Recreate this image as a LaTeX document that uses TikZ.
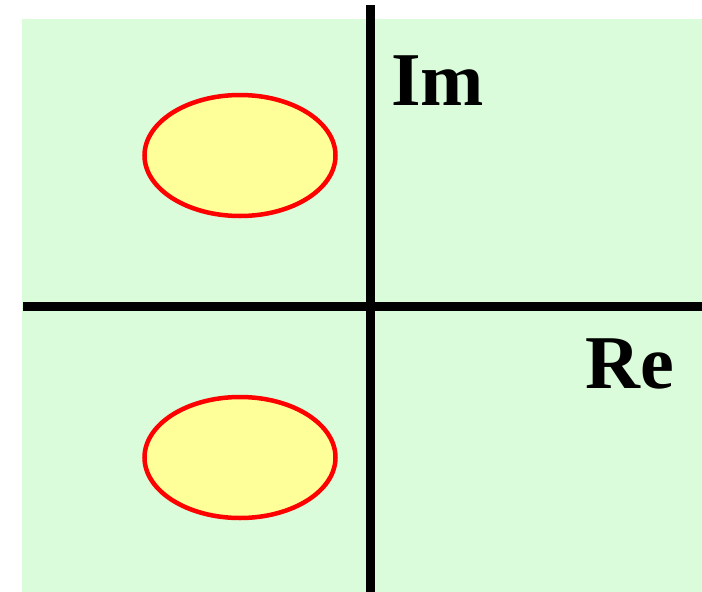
\documentclass[tikz,border=0pt]{standalone}
\usepackage{fontspec}
\setmainfont{Liberation Serif}
\usetikzlibrary{shapes.geometric}
\definecolor{bggreen}{RGB}{218,252,218}
\definecolor{blobyellow}{RGB}{255,255,153}
\definecolor{blobred}{RGB}{255,0,0}
\tikzset{
  axis/.style={line width=9pt, black},
  blob/.style={ellipse, draw=blobred, fill=blobyellow, line width=4.5pt, minimum width=191pt, minimum height=121pt, inner sep=0pt},
  axlabel/.style={anchor=base west, inner sep=0pt, font=\fontsize{76}{80}\selectfont\bfseries}
}
\begin{document}
\begin{tikzpicture}[x=1pt,y=-1pt]
\useasboundingbox (0,0) rectangle (702,592);
\fill[bggreen] (22,19) rectangle (702,592);
\coordinate (vtop) at (370.5,5);
\coordinate (vbot) at (370.5,592);
\coordinate (hleft) at (23,306.5);
\coordinate (hright) at (702,306.5);
\draw[axis] (vtop) -- (vbot);
\draw[axis] (hleft) -- (hright);
\node[blob] (upper) at (240,155.5) {};
\node[blob] (lower) at (240,457.5) {};
\node[axlabel] (im) at (391,105) {Im};
\node[axlabel] (re) at (585,388) {Re};
\end{tikzpicture}
\end{document}
